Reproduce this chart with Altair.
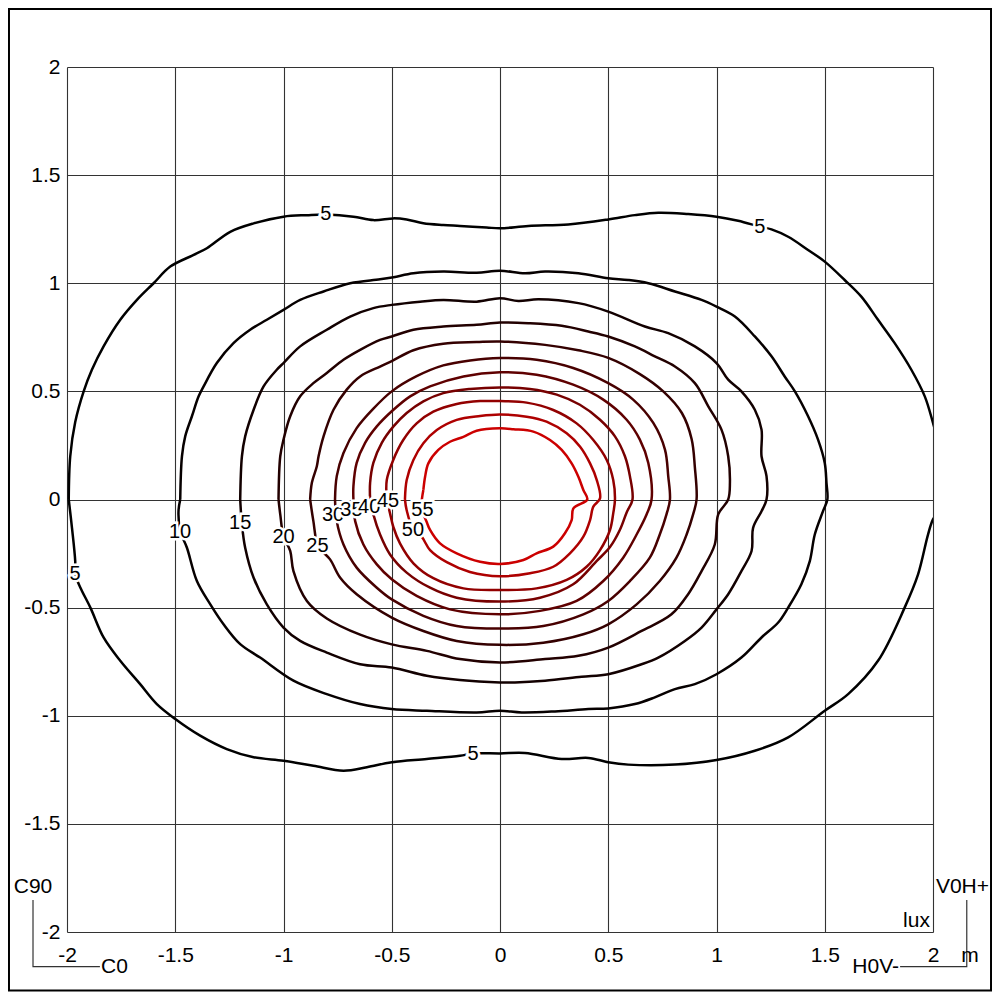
import altair as alt
import pandas as pd

LEVELS = [5, 10, 15, 20, 25, 30, 35, 40, 45, 50, 55]
COLORS = ["#000000", "#060000", "#120000", "#220000", "#340000", "#480000",
          "#5f0000", "#770000", "#920000", "#ae0000", "#cc0000"]

C5 = [(-1.992, 0.0), (-1.985, 0.2), (-1.962, 0.358), (-1.923, 0.5), (-1.885, 0.6), (-1.831, 0.708),
      (-1.754, 0.831), (-1.677, 0.923), (-1.6, 1.0), (-1.523, 1.077), (-1.415, 1.131), (-1.354, 1.162),
      (-1.246, 1.238), (-1.138, 1.277), (-1.0, 1.308), (-0.892, 1.315), (-0.8, 1.318), (-0.677, 1.308),
      (-0.585, 1.292), (-0.492, 1.3), (-0.431, 1.295), (-0.354, 1.277), (-0.262, 1.269), (-0.185, 1.265),
      (-0.062, 1.258), (0.0, 1.254), (0.131, 1.265), (0.315, 1.272), (0.5, 1.295), (0.623, 1.315),
      (0.731, 1.326), (0.869, 1.32), (1.0, 1.308), (1.1, 1.289), (1.2, 1.262), (1.254, 1.249),
      (1.331, 1.215), (1.423, 1.154), (1.5, 1.1), (1.592, 1.015), (1.669, 0.938), (1.746, 0.831),
      (1.823, 0.723), (1.9, 0.6), (1.962, 0.477), (2.0, 0.354), (2.04, 0.2), (2.06, 0.05),
      (2.03, -0.05), (2.0, -0.092), (1.977, -0.162), (1.931, -0.346), (1.869, -0.5), (1.746, -0.746),
      (1.608, -0.9), (1.5, -0.977), (1.331, -1.1), (1.177, -1.162), (1.0, -1.205), (0.808, -1.226),
      (0.592, -1.226), (0.5, -1.215), (0.408, -1.195), (0.285, -1.2), (0.115, -1.172), (0.0, -1.174),
      (-0.123, -1.174), (-0.185, -1.185), (-0.338, -1.2), (-0.5, -1.215), (-0.615, -1.238),
      (-0.723, -1.254), (-0.862, -1.231), (-1.0, -1.208), (-1.138, -1.192), (-1.262, -1.154),
      (-1.385, -1.092), (-1.5, -1.015), (-1.585, -0.946), (-1.662, -0.854), (-1.754, -0.746),
      (-1.831, -0.638), (-1.892, -0.5), (-1.938, -0.408), (-1.962, -0.346), (-1.962, -0.285),
      (-1.977, -0.131), (-1.992, 0.0)]

C10 = [(-1.477, 0.0), (-1.469, 0.2), (-1.454, 0.292), (-1.423, 0.385), (-1.392, 0.477), (-1.369, 0.523),
       (-1.308, 0.631), (-1.231, 0.723), (-1.154, 0.785), (-1.077, 0.831), (-1.0, 0.877), (-0.923, 0.923),
       (-0.815, 0.962), (-0.692, 1.0), (-0.554, 1.018), (-0.492, 1.028), (-0.4, 1.046), (-0.262, 1.054),
       (-0.108, 1.049), (0.0, 1.058), (0.115, 1.046), (0.208, 1.054), (0.362, 1.046), (0.5, 1.023),
       (0.592, 1.015), (0.685, 1.0), (0.808, 0.962), (0.931, 0.923), (1.0, 0.892), (1.085, 0.846),
       (1.177, 0.754), (1.254, 0.662), (1.315, 0.569), (1.362, 0.5), (1.423, 0.385), (1.469, 0.277),
       (1.5, 0.169), (1.508, 0.077), (1.512, 0.0), (1.492, -0.054), (1.454, -0.162), (1.431, -0.285),
       (1.392, -0.392), (1.331, -0.5), (1.285, -0.569), (1.208, -0.638), (1.115, -0.731), (1.0, -0.808),
       (0.9, -0.854), (0.808, -0.877), (0.715, -0.915), (0.623, -0.946), (0.5, -0.966), (0.408, -0.969),
       (0.254, -0.98), (0.1, -0.985), (0.0, -0.977), (-0.108, -0.985), (-0.338, -0.977), (-0.5, -0.969),
       (-0.646, -0.946), (-0.8, -0.9), (-0.954, -0.838), (-1.108, -0.731), (-1.2, -0.669),
       (-1.277, -0.577), (-1.338, -0.485), (-1.4, -0.377), (-1.446, -0.223), (-1.477, -0.146),
       (-1.485, -0.054), (-1.477, 0.0)]

C15 = [(-1.2, 0.0), (-1.192, 0.2), (-1.177, 0.292), (-1.138, 0.415), (-1.092, 0.523), (-1.031, 0.6),
       (-1.0, 0.631), (-0.923, 0.708), (-0.8, 0.785), (-0.692, 0.846), (-0.585, 0.885), (-0.5, 0.9),
       (-0.369, 0.915), (-0.262, 0.923), (-0.108, 0.915), (0.0, 0.931), (0.085, 0.918), (0.177, 0.926),
       (0.362, 0.908), (0.5, 0.869), (0.669, 0.8), (0.777, 0.769), (0.9, 0.708), (1.0, 0.631),
       (1.054, 0.554), (1.115, 0.5), (1.177, 0.415), (1.208, 0.323), (1.208, 0.2), (1.231, 0.108),
       (1.231, 0.0), (1.208, -0.054), (1.169, -0.131), (1.162, -0.238), (1.115, -0.331), (1.054, -0.438),
       (1.0, -0.508), (0.931, -0.592), (0.854, -0.654), (0.731, -0.731), (0.654, -0.762), (0.5, -0.808),
       (0.377, -0.82), (0.208, -0.838), (0.069, -0.846), (0.0, -0.846), (-0.185, -0.835), (-0.338, -0.815),
       (-0.5, -0.777), (-0.646, -0.762), (-0.8, -0.708), (-0.923, -0.654), (-1.0, -0.592),
       (-1.077, -0.485), (-1.138, -0.362), (-1.177, -0.223), (-1.192, -0.115), (-1.2, 0.0)]

C20 = [(-1.023, 0.0), (-1.015, 0.2), (-1.0, 0.277), (-0.969, 0.385), (-0.923, 0.477), (-0.862, 0.538),
       (-0.8, 0.585), (-0.723, 0.646), (-0.646, 0.692), (-0.554, 0.738), (-0.5, 0.754), (-0.4, 0.785),
       (-0.262, 0.8), (-0.108, 0.808), (0.0, 0.818), (0.131, 0.815), (0.285, 0.803), (0.408, 0.777),
       (0.5, 0.754), (0.623, 0.708), (0.715, 0.662), (0.808, 0.615), (0.9, 0.538), (0.962, 0.431),
       (1.023, 0.323), (1.054, 0.2), (1.062, 0.077), (1.054, 0.0), (1.008, -0.069), (0.992, -0.208),
       (0.931, -0.331), (0.869, -0.438), (0.792, -0.531), (0.654, -0.608), (0.5, -0.685), (0.362, -0.723),
       (0.208, -0.738), (0.0, -0.754), (-0.185, -0.738), (-0.338, -0.7), (-0.5, -0.67), (-0.646, -0.625),
       (-0.8, -0.55), (-0.892, -0.469), (-0.954, -0.331), (-0.969, -0.238), (-1.0, -0.169),
       (-1.015, -0.069), (-1.023, 0.0)]

C25 = [(-0.877, 0.0), (-0.869, 0.077), (-0.846, 0.154), (-0.838, 0.2), (-0.815, 0.292), (-0.769, 0.415),
       (-0.708, 0.508), (-0.646, 0.569), (-0.554, 0.615), (-0.5, 0.64), (-0.4, 0.69), (-0.262, 0.72),
       (-0.108, 0.728), (0.0, 0.731), (0.208, 0.715), (0.362, 0.69), (0.5, 0.655), (0.646, 0.58),
       (0.754, 0.5), (0.84, 0.4), (0.885, 0.28), (0.9, 0.15), (0.908, 0.0), (0.892, -0.069),
       (0.862, -0.162), (0.815, -0.269), (0.738, -0.377), (0.631, -0.485), (0.5, -0.577), (0.385, -0.623),
       (0.2, -0.662), (0.0, -0.672), (-0.2, -0.654), (-0.354, -0.608), (-0.5, -0.546), (-0.662, -0.438),
       (-0.738, -0.362), (-0.785, -0.277), (-0.84, -0.215), (-0.862, -0.1), (-0.877, 0.0)]

C30 = [(-0.762, 0.0), (-0.754, 0.108), (-0.723, 0.215), (-0.662, 0.33), (-0.585, 0.42), (-0.5, 0.5),
       (-0.385, 0.57), (-0.262, 0.62), (-0.138, 0.643), (0.0, 0.654), (0.169, 0.646), (0.338, 0.608),
       (0.5, 0.538), (0.615, 0.462), (0.708, 0.354), (0.762, 0.231), (0.777, 0.108), (0.785, 0.0),
       (0.769, -0.069), (0.738, -0.162), (0.692, -0.269), (0.6, -0.377), (0.5, -0.469), (0.385, -0.531),
       (0.2, -0.585), (0.0, -0.597), (-0.2, -0.585), (-0.354, -0.538), (-0.5, -0.462), (-0.569, -0.408),
       (-0.662, -0.315), (-0.723, -0.208), (-0.754, -0.1), (-0.762, 0.0)]

C35 = [(-0.677, 0.0), (-0.677, 0.062), (-0.662, 0.169), (-0.623, 0.262), (-0.569, 0.338), (-0.5, 0.408),
       (-0.415, 0.477), (-0.323, 0.523), (-0.169, 0.569), (0.0, 0.588), (0.169, 0.577), (0.338, 0.531),
       (0.477, 0.462), (0.585, 0.369), (0.646, 0.277), (0.685, 0.169), (0.7, 0.0), (0.677, -0.069),
       (0.631, -0.162), (0.569, -0.269), (0.477, -0.377), (0.354, -0.469), (0.185, -0.515), (0.0, -0.531),
       (-0.231, -0.508), (-0.385, -0.446), (-0.5, -0.369), (-0.569, -0.3), (-0.631, -0.208),
       (-0.669, -0.1), (-0.677, 0.0)]

C40 = [(-0.6, 0.0), (-0.6, 0.077), (-0.585, 0.169), (-0.546, 0.262), (-0.492, 0.338), (-0.431, 0.4),
       (-0.354, 0.454), (-0.262, 0.492), (-0.138, 0.511), (0.0, 0.518), (0.138, 0.511), (0.262, 0.485),
       (0.369, 0.438), (0.462, 0.369), (0.531, 0.292), (0.577, 0.2), (0.6, 0.108), (0.612, 0.0),
       (0.585, -0.06), (0.554, -0.14), (0.508, -0.22), (0.446, -0.285), (0.338, -0.392), (0.185, -0.454),
       (0.0, -0.472), (-0.2, -0.454), (-0.323, -0.408), (-0.431, -0.338), (-0.508, -0.254),
       (-0.554, -0.162), (-0.585, -0.069), (-0.6, 0.0)]

C45 = [(-0.523, 0.0), (-0.523, 0.09), (-0.493, 0.183), (-0.447, 0.275), (-0.385, 0.352), (-0.308, 0.406),
       (-0.2, 0.442), (-0.092, 0.455), (0.0, 0.455), (0.123, 0.448), (0.246, 0.414), (0.354, 0.352),
       (0.431, 0.275), (0.493, 0.183), (0.523, 0.09), (0.531, 0.0), (0.523, -0.064), (0.508, -0.141),
       (0.462, -0.234), (0.4, -0.311), (0.308, -0.372), (0.169, -0.411), (0.0, -0.418), (-0.169, -0.411),
       (-0.308, -0.364), (-0.4, -0.295), (-0.462, -0.203), (-0.493, -0.126), (-0.508, -0.064),
       (-0.523, 0.0)]

C50 = [(-0.439, 0.0), (-0.431, 0.09), (-0.4, 0.183), (-0.354, 0.26), (-0.292, 0.321), (-0.2, 0.368),
       (-0.092, 0.386), (0.0, 0.393), (0.123, 0.383), (0.215, 0.36), (0.308, 0.306), (0.37, 0.244),
       (0.416, 0.167), (0.447, 0.09), (0.462, 0.005), (0.431, -0.033), (0.416, -0.095), (0.385, -0.172),
       (0.323, -0.249), (0.246, -0.311), (0.139, -0.341), (0.0, -0.355), (-0.139, -0.335),
       (-0.246, -0.29), (-0.323, -0.234), (-0.362, -0.172), (-0.4, -0.141), (-0.431, -0.05),
       (-0.439, 0.0)]

C55 = [(-0.354, 0.044), (-0.346, 0.105), (-0.331, 0.167), (-0.285, 0.229), (-0.231, 0.267),
       (-0.169, 0.29), (-0.108, 0.318), (0.0, 0.329), (0.062, 0.325), (0.154, 0.314), (0.231, 0.275),
       (0.285, 0.229), (0.331, 0.167), (0.362, 0.105), (0.385, 0.044), (0.403, 0.0), (0.339, -0.041),
       (0.331, -0.095), (0.3, -0.156), (0.246, -0.218), (0.169, -0.249), (0.108, -0.28), (0.0, -0.298),
       (-0.092, -0.288), (-0.2, -0.249), (-0.277, -0.203), (-0.323, -0.141), (-0.339, -0.103),
       (-0.362, -0.041), (-0.354, 0.044)]

CONTOURS = [C5, C10, C15, C20, C25, C30, C35, C40, C45, C50, C55]

# contour labels, in drawing order
LABEL_TEXT = ["5", "5", "5", "5", "10", "15", "20", "25", "30", "35", "40", "45", "50", "55"]
LABEL_X = [-0.804, 1.2, -1.963, -0.125, -1.478, -1.2, -1.0, -0.843, -0.771, -0.686, -0.604, -0.517, -0.402, -0.358]
LABEL_Y = [1.318, 1.262, -0.344, -1.177, -0.15, -0.109, -0.173, -0.213, -0.07, -0.05, -0.035, -0.005, -0.139, -0.049]

TICKS = [-2, -1.5, -1, -0.5, 0, 0.5, 1, 1.5, 2]

# annotation texts outside the plot area (data units)
ANN_CENTER = [("C90", -2.157, -1.792), ("V0H+", 2.136, -1.792), ("m", 2.171, -2.111)]
ANN_LEFT = [("C0", -1.843, -2.162)]
ANN_RIGHT = [("H0V-", 1.843, -2.162), ("lux", 1.986, -1.95)]
BRACKETS = [("L", [(-2.157, -1.852), (-2.157, -2.160), (-1.848, -2.160)]),
            ("R", [(2.156, -1.852), (2.156, -2.160), (1.848, -2.160)])]
FRAME = {"x": -2.268, "x2": 2.268, "y": 2.268, "y2": -2.27}

FONT = "Liberation Sans"

rows = []
for lev, pts in zip(LEVELS, CONTOURS):
    for i, (x, y) in enumerate(pts):
        rows.append({"level": lev, "i": i, "x": x, "y": y})
df = pd.DataFrame(rows)

lab_df = pd.DataFrame({"t": LABEL_TEXT, "x": LABEL_X, "y": LABEL_Y, "k": list(range(len(LABEL_TEXT)))})

br_rows = []
for name, pts in BRACKETS:
    for i, (x, y) in enumerate(pts):
        br_rows.append({"b": name, "i": i, "x": x, "y": y})
br_df = pd.DataFrame(br_rows)

xs = alt.Scale(domain=[-2, 2], nice=False, zero=False)
ys = alt.Scale(domain=[-2, 2], nice=False, zero=False)
label_expr = "datum.value < 0 ? '-' + format(-datum.value, '~g') : format(datum.value, '~g')"
common_axis = dict(values=TICKS, title=None, grid=True, gridColor="#333333", gridWidth=1.1,
                   gridOpacity=1, domain=False, ticks=False, labelFont=FONT, labelFontSize=21,
                   labelColor="#000000", labelExpr=label_expr, labelFlush=False, labelOverlap=False)
xaxis = alt.Axis(labelPadding=12, **common_axis)
yaxis = alt.Axis(labelPadding=7, **common_axis)

X = alt.X("x:Q", scale=xs, axis=xaxis)
Y = alt.Y("y:Q", scale=ys, axis=yaxis)

lines = alt.Chart(df).mark_line(strokeWidth=2.5, clip=True, interpolate="catmull-rom").encode(
    x=X, y=Y,
    color=alt.Color("level:N", scale=alt.Scale(domain=LEVELS, range=COLORS), legend=None),
    detail="level:N",
    order="i:Q",
)

layers = [lines]
for k in range(len(LABEL_TEXT)):
    sub = lab_df[lab_df["k"] == k]
    halo = alt.Chart(sub).mark_text(font=FONT, fontSize=20, fill="white", stroke="white",
                                   strokeWidth=5, align="center", baseline="middle").encode(
        x=X, y=Y, text="t:N")
    txt = alt.Chart(sub).mark_text(font=FONT, fontSize=20, fill="black", align="center",
                                  baseline="middle").encode(x=X, y=Y, text="t:N")
    layers += [halo, txt]

frame = alt.Chart(pd.DataFrame([FRAME])).mark_rect(fillOpacity=0, stroke="black", strokeWidth=2).encode(
    x=X, x2="x2:Q", y=Y, y2="y2:Q")
layers.append(frame)

brackets = alt.Chart(br_df).mark_line(color="#333333", strokeWidth=1.2).encode(
    x=X, y=Y, detail="b:N", order="i:Q")
layers.append(brackets)

for items, align in [(ANN_CENTER, "center"), (ANN_LEFT, "left"), (ANN_RIGHT, "right")]:
    adf = pd.DataFrame([{"t": t, "x": x, "y": y} for t, x, y in items])
    layers.append(alt.Chart(adf).mark_text(font=FONT, fontSize=21, color="black", align=align,
                                           baseline="middle").encode(x=X, y=Y, text="t:N"))

chart = alt.layer(*layers).properties(
    width=866, height=865,
    autosize=alt.AutoSizeParams(type="none"),
    padding={"left": 59, "top": 59, "right": 59, "bottom": 60},
).configure_view(strokeWidth=0)

chart.save("out.html", embed_options={"renderer": "svg", "actions": False})
